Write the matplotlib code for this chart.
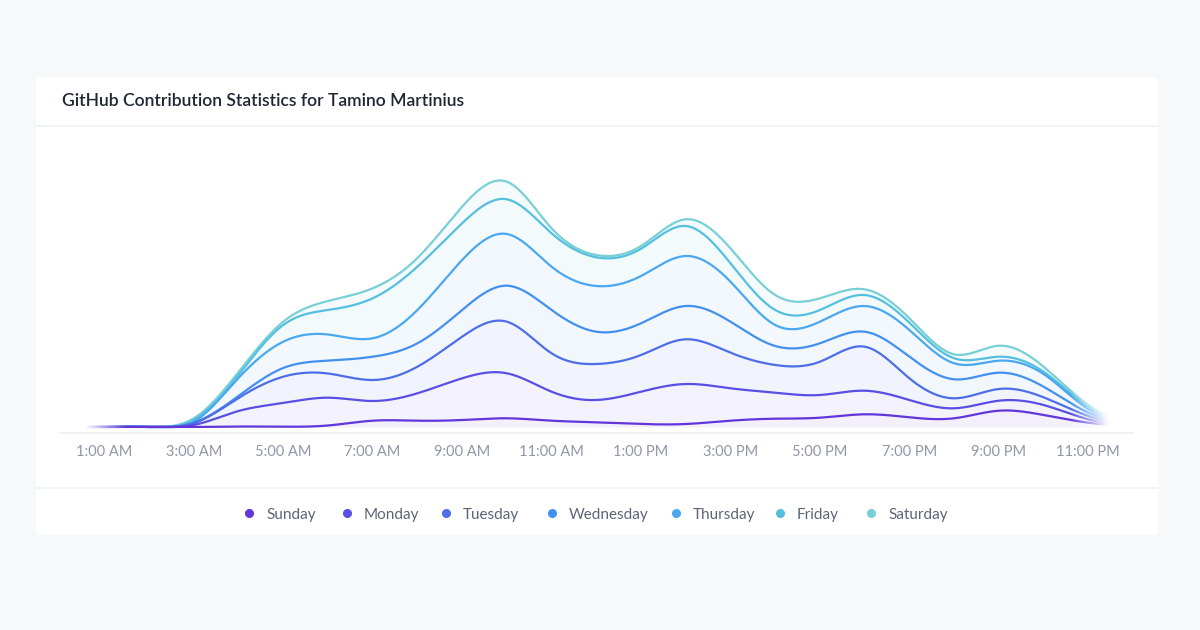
import numpy as np
import matplotlib
matplotlib.use("Agg")
import matplotlib.pyplot as plt
from matplotlib.patches import FancyBboxPatch
from matplotlib.lines import Line2D

plt.rcParams['font.family'] = ['Lato', 'DejaVu Sans']

# ---------------- data ----------------
hours = list(range(25))
tick_hours = [1, 3, 5, 7, 9, 11, 13, 15, 17, 19, 21, 23]
tick_labels = ["1:00 AM", "3:00 AM", "5:00 AM", "7:00 AM", "9:00 AM", "11:00 AM",
               "1:00 PM", "3:00 PM", "5:00 PM", "7:00 PM", "9:00 PM", "11:00 PM"]
days = ["Sunday", "Monday", "Tuesday", "Wednesday", "Thursday", "Friday", "Saturday"]
colors = ["#6236d9", "#5a4fe3", "#4d6ee8", "#4390f0", "#4aa8f0", "#55bfe0", "#79cfd6"]

sunday    = [0, 0, 0, 0.0, 0.5, 0.3, 1.5, 6.3, 6.3, 7.0, 8.7, 6.3, 4.7, 3.0, 3.0, 6.3, 8.3, 9.3, 12.7, 9.7, 8.7, 16.3, 12.0, 4.3, 0]
monday    = [0, 0, 0, 2.0, 15.5, 23.7, 27.8, 19.7, 27.4, 41.7, 45.0, 29.0, 22.3, 32.3, 40.0, 32.4, 26.0, 22.7, 23.6, 17.3, 10.0, 10.0, 10.0, 3.4, 0]
tuesday   = [0, 0, 0, 1.7, 13.0, 26.3, 24.2, 21.0, 26.6, 41.6, 51.6, 38.4, 36.0, 36.7, 44.7, 35.6, 27.7, 33.3, 44.0, 21.7, 10.0, 11.7, 7.7, 3.3, 0]
wednesday = [0, 0, 0, 0.6, 2.0, 8.7, 12.8, 23.3, 23.4, 26.7, 36.0, 43.3, 32.3, 31.7, 33.3, 31.0, 19.0, 18.4, 15.0, 21.6, 19.0, 16.3, 10.6, 3.3, 0]
thursday  = [0, 0, 0, 1.0, 18.0, 26.3, 26.2, 18.4, 33.3, 50.0, 51.7, 43.3, 45.7, 47.3, 50.0, 40.0, 21.0, 21.6, 25.7, 26.7, 16.0, 12.0, 12.7, 3.4, 0]
friday    = [0, 0, 0, 1.7, 3.0, 16.7, 24.5, 40.0, 43.3, 36.7, 34.7, 33.4, 28.7, 27.3, 30.0, 18.4, 15.0, 11.7, 11.0, 7.3, 5.0, 4.0, 2.3, 2.0, 0]
saturday  = [0, 0, 0, 1.7, 3.0, 3.3, 9.0, 10.0, 8.7, 16.6, 17.6, 5.0, 2.3, 2.7, 6.7, 15.0, 15.0, 11.7, 5.7, 4.4, 4.0, 11.0, 5.0, 2.3, 0]
series = [sunday, monday, tuesday, wednesday, thursday, friday, saturday]


def natural_spline(x, y, n=24):
    x = np.asarray(x, float)
    y = np.asarray(y, float)
    k = len(x)
    h = np.diff(x)
    A = np.zeros((k, k))
    b = np.zeros(k)
    A[0, 0] = 1
    A[-1, -1] = 1
    for i in range(1, k - 1):
        A[i, i - 1] = h[i - 1]
        A[i, i] = 2 * (h[i - 1] + h[i])
        A[i, i + 1] = h[i]
        b[i] = 3 * ((y[i + 1] - y[i]) / h[i] - (y[i] - y[i - 1]) / h[i - 1])
    c = np.linalg.solve(A, b)
    xs, ys = [], []
    for i in range(k - 1):
        bi = (y[i + 1] - y[i]) / h[i] - h[i] * (2 * c[i] + c[i + 1]) / 3
        di = (c[i + 1] - c[i]) / (3 * h[i])
        t = np.linspace(0, h[i], n, endpoint=False)
        xs.append(x[i] + t)
        ys.append(y[i] + bi * t + c[i] * t**2 + di * t**3)
    xs.append([x[-1]])
    ys.append([y[-1]])
    return np.concatenate(xs), np.concatenate(ys)


W, H = 1200, 630
fig = plt.figure(figsize=(12, 6.3), dpi=100)
fig.patch.set_facecolor("#f7f8fa")


def fx(x):
    return x / W


def fy(y):
    return 1 - y / H


# card
card = FancyBboxPatch((fx(36), fy(535)), fx(1158) - fx(36), fy(77) - fy(535),
                      boxstyle="round,pad=0,rounding_size=0.006",
                      transform=fig.transFigure, facecolor="white", edgecolor="none", zorder=-10)
fig.patches.append(card)
fig.add_artist(Line2D([fx(36), fx(1158)], [fy(125.5), fy(125.5)], color="#eef0f3", lw=1.2,
                      transform=fig.transFigure, zorder=-5))
fig.add_artist(Line2D([fx(36), fx(1158)], [fy(487.5), fy(487.5)], color="#eef0f3", lw=1.2,
                      transform=fig.transFigure, zorder=-5))
fig.text(fx(62), fy(101), "GitHub Contribution Statistics for Tamino Martinius",
         fontsize=12.6, color="#1e2633", va="center", ha="left", fontweight="semibold")

# axes: 1 data unit = 1 pixel vertically
x0, x24 = 59.6, 1133.0
ytop, ybot = 160.0, 430.0
ax = fig.add_axes([fx(x0), fy(ybot), fx(x24) - fx(x0), (ybot - ytop) / H], zorder=5)
ax.set_xlim(0, 24)
ax.set_ylim(-3, 267)
ax.patch.set_alpha(0)
for s in ax.spines.values():
    s.set_visible(False)
ax.set_yticks([])
ax.set_xticks(tick_hours)
ax.set_xticklabels(tick_labels, fontsize=10.5, color="#8f97a8")
ax.tick_params(axis="x", length=0, pad=11)

fig.add_artist(Line2D([fx(60), fx(1133)], [fy(432.7), fy(432.7)], color="#eceef2", lw=1.2,
                      transform=fig.transFigure, zorder=-5))

cum = np.cumsum(np.array(series, float), axis=0)
curves = []
for i in range(len(days)):
    xs, ys = natural_spline(hours, cum[i])
    ys = np.maximum(ys, 0)
    if curves:
        ys = np.maximum(ys, curves[-1][1])
    curves.append((xs, ys))

prev = None
for i in range(len(days)):
    xs, ys = curves[i]
    lower = np.zeros_like(ys) if prev is None else prev
    ax.fill_between(xs, lower, ys, color=colors[i], alpha=0.07, lw=0, zorder=1)
    prev = ys

for i in reversed(range(len(days))):
    xs, ys = curves[i]
    ax.plot(xs, ys, color=colors[i], lw=1.6, zorder=3 + (7 - i) * 0.01, solid_capstyle="round")


# edge fade
def xh(px):
    return (px - x0) / (x24 - x0) * 24


nx = 600
gx = np.linspace(0, 24, nx)
alpha = np.zeros(nx)
la, lb = xh(84), xh(125)
ra, rb = xh(1070), xh(1108)
alpha[gx <= la] = 1
m = (gx > la) & (gx < lb)
alpha[m] = 1 - (gx[m] - la) / (lb - la)
alpha[gx >= rb] = 1
m = (gx > ra) & (gx < rb)
alpha[m] = (gx[m] - ra) / (rb - ra)
img = np.ones((2, nx, 4))
img[..., 3] = alpha[None, :]
ax.imshow(img, extent=(0, 24, -3, 267), aspect="auto", zorder=10, interpolation="bilinear")
ax.set_xlim(0, 24)
ax.set_ylim(-3, 267)

# legend
dot_x = [249, 347, 446, 552, 676, 780, 871]
for i, d in enumerate(days):
    fig.add_artist(Line2D([fx(dot_x[i])], [fy(513)], marker="o", markersize=5.5, color=colors[i],
                          lw=0, transform=fig.transFigure))
    fig.text(fx(dot_x[i] + 17), fy(514.5), d, fontsize=11, color="#5c6577", va="center", ha="left")

fig.savefig("out.png", dpi=100, facecolor=fig.get_facecolor())
